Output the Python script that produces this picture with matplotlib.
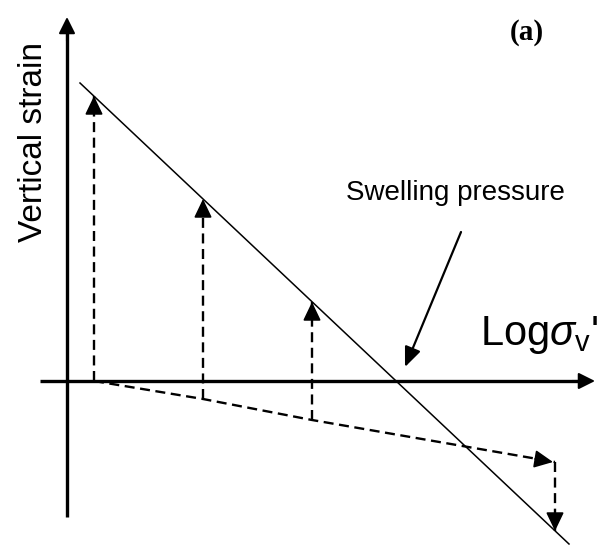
import matplotlib
matplotlib.use("Agg")
import matplotlib.pyplot as plt

plt.rcParams["font.family"] = ["Liberation Sans", "DejaVu Sans"]
plt.rcParams["mathtext.fontset"] = "custom"
plt.rcParams["mathtext.rm"] = "Liberation Sans"
plt.rcParams["mathtext.it"] = "Liberation Sans:italic"
plt.rcParams["lines.scale_dashes"] = False

# schematic data (log sigma_v' vs vertical strain, arbitrary units)
comp_line_x = [0.13, 5.02]
comp_line_y = [2.98, -1.63]

load_x = [0.27, 1.36, 2.45, 4.88]
swell_y = [0.0, -0.18, -0.39, -0.81]
comp_y = [2.85, 1.82, 0.79, -1.50]

fig = plt.figure(figsize=(6.05, 5.52), dpi=100)
ax = fig.add_axes([0, 0, 1, 1])
ax.set_xlim(-0.67, 5.38)
ax.set_ylim(-1.71, 3.81)
ax.axis("off")

def head(tip, frm, lw=1.6, hl=1.0, hw=0.5):
    ax.annotate("", xy=tip, xytext=frm,
                arrowprops=dict(arrowstyle=f"-|>,head_length={hl},head_width={hw}",
                                color="k", lw=lw, shrinkA=0, shrinkB=0))

# axes
ax.plot([0, 0], [-1.36, 3.55], color="k", lw=2.4, solid_capstyle="butt")
head((0, 3.64), (0, 3.40), lw=1.5, hl=1.0, hw=0.5)
ax.plot([-0.27, 5.18], [0, 0], color="k", lw=2.4, solid_capstyle="butt")
head((5.28, 0), (5.05, 0), lw=1.5, hl=1.0, hw=0.5)

# compression line
ax.plot(comp_line_x, comp_line_y, color="k", lw=1.1)

dash = (0, (7.2, 4.0))
# swelling path
ax.plot(load_x, swell_y, color="k", lw=1.7, linestyle=dash)
head((load_x[-1] - 0.02, swell_y[-1]), (load_x[-1] - 0.2, swell_y[-1] + 0.03),
     lw=1.2, hl=1.15, hw=0.55)

# vertical loading paths
for x, y0, y1 in zip(load_x, swell_y, comp_y):
    ax.plot([x, x], [y0, y1], color="k", lw=1.7, linestyle=dash)
    d = 0.15 if y1 > y0 else -0.15
    head((x, y1), (x, y1 - d), lw=1.2, hl=1.15, hw=0.55)

# swelling pressure pointer
ax.annotate("", xy=(3.38, 0.14), xytext=(3.94, 1.49),
            arrowprops=dict(arrowstyle="-|>,head_length=1.2,head_width=0.5",
                            color="k", lw=1.6, shrinkA=0, shrinkB=0))

ax.text(3.88, 1.88, "Swelling pressure", fontsize=20, ha="center", va="center")
ax.text(-0.34, 2.39, "Vertical strain", fontsize=24, rotation=90,
        ha="center", va="center")
ax.text(4.13, 0.46, r"Log$\sigma_{\rm v}$'", fontsize=30, ha="left", va="center")
ax.text(4.60, 3.48, "(a)", fontsize=21, fontweight="bold",
        family="Liberation Serif", ha="center", va="center")

fig.savefig("out.png", dpi=100)
